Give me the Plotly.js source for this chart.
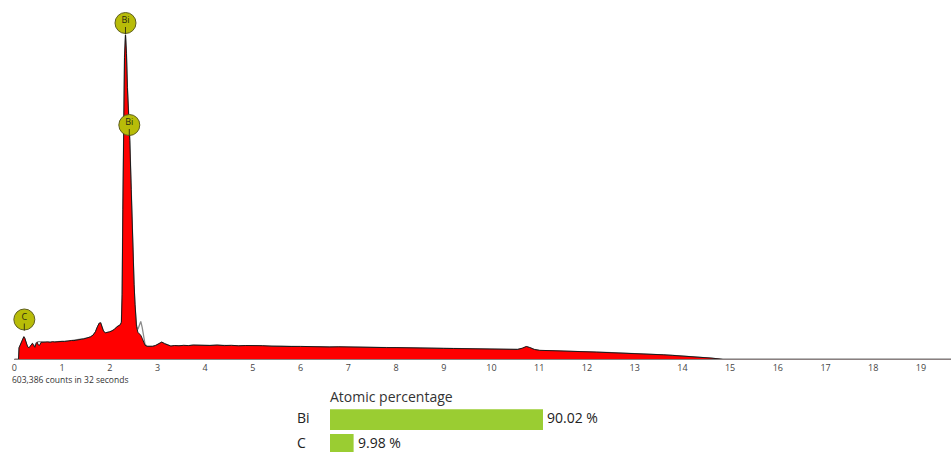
<!DOCTYPE html>
<html>
<head>
<meta charset="utf-8">
<script src="https://cdn.plot.ly/plotly-3.0.1.min.js"></script>
<style>
  html, body { margin: 0; padding: 0; background: #fff; }
  #chart { width: 951px; height: 452px; }
</style>
</head>
<body>
<div id="chart"></div>
<script>
// EDS spectrum: energy (keV) and counts per channel
const energyKeV = [
  0.00, 0.09, 0.10, 0.14, 0.18, 0.20, 0.22, 0.25, 0.28, 0.31, 0.35, 0.38, 0.41, 0.43, 0.46, 0.48,
  0.50, 0.53, 0.56, 0.60, 0.65, 0.70, 0.75, 0.80, 0.85, 0.90, 0.95, 1.00, 1.05, 1.10, 1.15, 1.20,
  1.25, 1.30, 1.35, 1.40, 1.45, 1.50, 1.55, 1.60, 1.65, 1.70, 1.74, 1.78, 1.81, 1.84, 1.87, 1.91,
  1.96, 2.00, 2.05, 2.10, 2.15, 2.19, 2.22, 2.245, 2.26, 2.275, 2.29, 2.31, 2.33, 2.35, 2.37, 2.39,
  2.42, 2.45, 2.48, 2.51, 2.53, 2.56, 2.59, 2.62, 2.65, 2.68, 2.71, 2.74, 2.78, 2.84, 2.90, 2.96,
  3.02, 3.09, 3.15, 3.21, 3.28, 3.36, 3.45, 3.55, 3.65, 3.75, 3.85, 3.95, 4.1, 4.25, 4.4, 4.55,
  4.7, 4.85, 5.0, 5.2, 5.4, 5.6, 5.8, 6.0, 6.2, 6.4, 6.6, 6.8, 7.0, 7.2, 7.4, 7.6,
  7.8, 8.0, 8.2, 8.4, 8.6, 8.8, 9.0, 9.2, 9.4, 9.6, 9.8, 10.0, 10.2, 10.4, 10.55, 10.65,
  10.73, 10.8, 10.9, 11.0, 11.2, 11.4, 11.6, 11.8, 12.0, 12.2, 12.4, 12.6, 12.8, 13.0, 13.2, 13.4,
  13.6, 13.8, 14.0, 14.2, 14.4, 14.6, 14.85, 19.63
];

// measured spectrum (red, filled)
const measuredCounts = [
  0, 0, 1150, 1600, 2100, 2260, 2100, 1600, 1250, 1160, 1450, 1600, 1350, 1200, 1600, 1700,
  1450, 1400, 1700, 1720, 1690, 1740, 1700, 1760, 1730, 1770, 1750, 1790, 1780, 1830, 1850, 1880,
  1870, 1930, 1960, 2000, 2030, 2080, 2150, 2250, 2420, 2750, 3250, 3620, 3650, 3200, 2800, 2650,
  2680, 2750, 2850, 3000, 3250, 3350, 3450, 3700, 6500, 15000, 25800, 30200, 32450, 30600, 27200, 25300,
  21900, 17000, 11500, 7500, 5500, 3300, 2700, 2550, 2400, 2100, 1700, 1400, 1300, 1280, 1300, 1380,
  1500, 1720, 1560, 1420, 1320, 1380, 1350, 1400, 1370, 1420, 1390, 1410, 1380, 1420, 1370, 1400,
  1350, 1380, 1340, 1360, 1310, 1330, 1280, 1290, 1250, 1270, 1230, 1250, 1220, 1230, 1190, 1200,
  1170, 1170, 1140, 1150, 1110, 1120, 1090, 1080, 1060, 1050, 1020, 1000, 990, 960, 990, 1120,
  1280, 1180, 980, 900, 880, 850, 820, 790, 740, 720, 680, 650, 610, 570, 540, 490,
  450, 390, 330, 280, 200, 120, 0, 0
];

// reference / fitted spectrum (grey line)
const fittedCounts = [
  0, 0, 1150, 1580, 2080, 2240, 2080, 1520, 1120, 1080, 1420, 1560, 1380, 1300, 1640, 1720,
  1760, 1770, 1740, 1730, 1700, 1720, 1710, 1750, 1740, 1760, 1760, 1780, 1790, 1820, 1840, 1870,
  1890, 1920, 1950, 1990, 2020, 2070, 2140, 2240, 2400, 2720, 3200, 3580, 3620, 3180, 2780, 2640,
  2670, 2740, 2840, 2990, 3240, 3340, 3440, 3700, 6500, 15000, 25800, 30200, 32450, 30600, 27200, 25300,
  21900, 17000, 11500, 7300, 5400, 3400, 3000, 3350, 3780, 3200, 2100, 1500, 1320, 1290, 1300, 1380,
  1500, 1700, 1560, 1420, 1320, 1370, 1350, 1390, 1370, 1410, 1390, 1400, 1380, 1410, 1370, 1390,
  1350, 1370, 1340, 1350, 1310, 1320, 1280, 1280, 1250, 1260, 1230, 1240, 1220, 1220, 1190, 1200,
  1170, 1160, 1140, 1140, 1110, 1110, 1090, 1080, 1060, 1040, 1020, 1000, 990, 960, 980, 1100,
  1260, 1170, 980, 900, 880, 850, 820, 790, 740, 720, 680, 650, 610, 570, 540, 490,
  450, 390, 330, 280, 200, 120, 0, 0
];

// element line markers
const markerLabels = ["Bi", "Bi", "C"];
const markerEnergy = [2.33, 2.41, 0.21];
const markerCounts = [33630, 23430, 3980];

// x axis ticks
const tickValues = [0, 1, 2, 3, 4, 5, 6, 7, 8, 9, 10, 11, 12, 13, 14, 15, 16, 17, 18, 19];
const tickLabels = tickValues.map(String);

// quantification
const elements = ["Bi", "C"];
const atomicPercent = [90.02, 9.98];

const countsText = "603,386 counts in 32 seconds";
const barTitle = "Atomic percentage";

const FONT = "Open Sans, DejaVu Sans, sans-serif";
const W = 951, H = 452;

// element marker tick segments (inside the lower half of each circle)
const segX = [], segY = [];
markerEnergy.forEach((e, i) => {
  segX.push(e, e, null);
  segY.push(markerCounts[i] - 400, markerCounts[i] - 1100, null);
});

const traces = [
  {
    x: energyKeV, y: fittedCounts, type: "scatter", mode: "lines",
    line: { color: "#8c8c8c", width: 1.3 }, hoverinfo: "skip", showlegend: false
  },
  {
    x: energyKeV, y: measuredCounts, type: "scatter", mode: "lines",
    fill: "tozeroy", fillcolor: "#ff0000",
    line: { color: "#1a1a1a", width: 1 }, hoverinfo: "skip", showlegend: false
  },
  {
    x: markerEnergy, y: markerCounts, type: "scatter", mode: "markers",
    marker: { size: 21, color: "#b8bc08", line: { color: "#5e5e20", width: 1 } },
    hoverinfo: "skip", showlegend: false, cliponaxis: false
  },
  {
    x: segX, y: segY, type: "scatter", mode: "lines",
    line: { color: "#3a3a10", width: 1 }, hoverinfo: "skip", showlegend: false, cliponaxis: false
  },
  {
    x: markerEnergy, y: markerCounts.map(v => v + 200), type: "scatter", mode: "text",
    text: markerLabels, textposition: "middle center",
    textfont: { family: FONT, size: 9, color: "#2a2a10" },
    hoverinfo: "skip", showlegend: false, cliponaxis: false
  },
  {
    x: atomicPercent, y: elements, type: "bar", orientation: "h",
    xaxis: "x2", yaxis: "y2", width: 0.84,
    marker: { color: "#9acd32" },
    hoverinfo: "skip", showlegend: false
  }
];

const plotLeft = 14.3;
const pxPerKeV = 47.72;
const baselinePx = 359.3;

// element names left of the bars and percentages right of the bar ends
const rowLabels = elements.map((el, i) => ({
  text: el, xref: "paper", yref: "y2",
  x: 295 / W, y: i, yshift: 2, xanchor: "left", yanchor: "middle",
  showarrow: false, font: { family: FONT, size: 14, color: "#222" }
}));
const valueLabels = atomicPercent.map((v, i) => ({
  text: v.toFixed(2) + " %", xref: "x2", yref: "y2",
  x: v, y: i, xshift: 2, yshift: 2, xanchor: "left", yanchor: "middle",
  showarrow: false, font: { family: FONT, size: 14, color: "#222" }
}));

const layout = {
  width: W, height: H,
  margin: { l: 0, r: 0, t: 0, b: 0 },
  paper_bgcolor: "#ffffff", plot_bgcolor: "rgba(0,0,0,0)",
  font: { family: FONT, color: "#333" },
  xaxis: {
    domain: [plotLeft / W, 1],
    range: [0, (W - plotLeft) / pxPerKeV],
    tickvals: tickValues, ticktext: tickLabels,
    tickfont: { family: FONT, size: 9, color: "#444" },
    ticks: "", showgrid: false, zeroline: false,
    showline: true, linecolor: "#8a7f7f", linewidth: 1
  },
  yaxis: {
    domain: [(H - baselinePx) / H, 1],
    range: [0, baselinePx * 100],
    visible: false, fixedrange: true
  },
  xaxis2: {
    domain: [330 / W, 1],
    range: [0, (W - 330) / 2.366],
    visible: false, anchor: "y2"
  },
  yaxis2: {
    domain: [0, 52 / H],
    type: "category", categoryarray: elements,
    range: [1.308, -0.798],
    visible: false, anchor: "x2"
  },
  annotations: [
    {
      text: countsText, xref: "paper", yref: "paper",
      x: 10 / W, y: (H - 379) / H, xanchor: "left", yanchor: "middle",
      showarrow: false, font: { family: FONT, size: 8.5, color: "#333" }
    },
    {
      text: barTitle, xref: "paper", yref: "paper",
      x: 328 / W, y: (H - 396) / H, xanchor: "left", yanchor: "middle",
      showarrow: false, font: { family: FONT, size: 14, color: "#333" }
    }
  ].concat(rowLabels, valueLabels)
};

Plotly.newPlot("chart", traces, layout, { staticPlot: true, displayModeBar: false });
</script>
</body>
</html>
